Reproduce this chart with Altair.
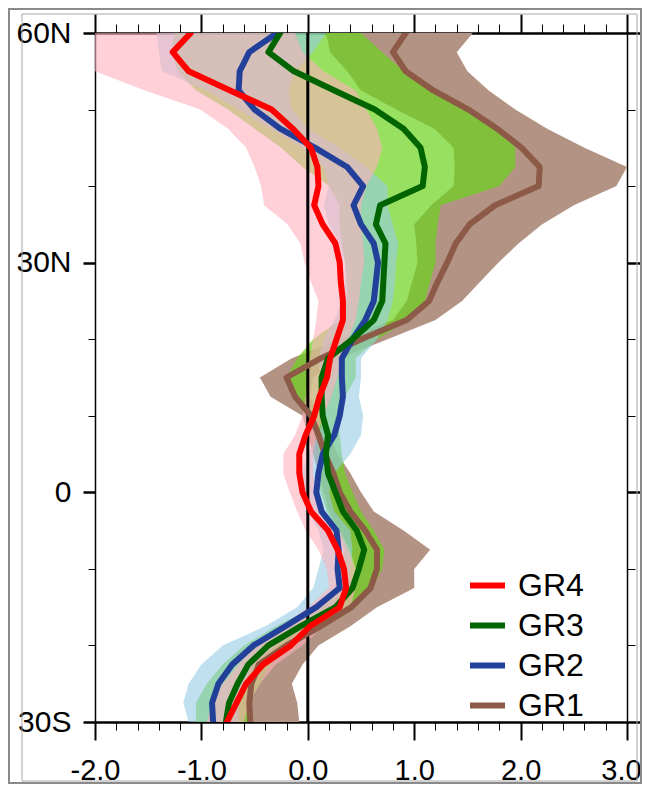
import altair as alt
import pandas as pd

# ---------------- data ----------------
lat = [60, 57.5, 55, 52.5, 50, 47.5, 45, 42.5, 40, 37.5, 35, 32.5, 30, 27.5, 25, 22.5,
       20, 17.5, 15, 12.5, 10, 7.5, 5, 2.5, 0, -2.5, -5, -7.5, -10, -12.5, -15, -17.5,
       -20, -22.5, -25, -27.5, -30]

gr4 = [-1.10, -1.27, -1.12, -0.73, -0.34, -0.14, 0.03, 0.09, 0.10, 0.06, 0.14, 0.26, 0.30,
       0.31, 0.33, 0.33, 0.27, 0.21, 0.18, 0.11, 0.06, -0.02, -0.08, -0.08, -0.05, 0.03,
       0.19, 0.28, 0.34, 0.36, 0.30, 0.02, -0.16, -0.42, -0.58, -0.67, -0.76]
gr4_lo = [-2.3, -2.3, -2.0, -1.53, -1.01, -0.75, -0.58, -0.50, -0.44, -0.41, -0.19, -0.07,
          -0.03, 0.03, 0.10, 0.08, 0.05, 0.02, 0.0, -0.02, -0.05, -0.12, -0.23, -0.23, -0.17,
          -0.10, -0.02, 0.10, 0.18, 0.20, 0.0, -0.25, -0.5, -0.65, -0.8, -0.9, -0.95]
gr4_hi = [-0.12, -0.05, 0.15, 0.45, 0.55, 0.65, 0.7, 0.65, 0.55, 0.5, 0.5, 0.52, 0.53, 0.5,
          0.48, 0.45, 0.38, 0.32, 0.28, 0.22, 0.15, 0.08, 0.05, 0.05, 0.08, 0.15, 0.3, 0.38,
          0.45, 0.45, 0.4, 0.15, -0.05, -0.3, -0.45, -0.55, -0.6]

gr3 = [-0.26, -0.37, -0.13, 0.25, 0.63, 0.90, 1.06, 1.10, 1.08, 0.68, 0.64, 0.73, 0.72,
       0.71, 0.70, 0.62, 0.42, 0.19, 0.13, 0.13, 0.14, 0.19, 0.17, 0.19, 0.26, 0.33, 0.46,
       0.53, 0.48, 0.42, 0.26, -0.07, -0.37, -0.56, -0.66, -0.74, -0.77]
gr3_lo = [-1.25, -1.28, -1.22, -1.05, -0.75, -0.5, -0.25, -0.05, 0.2, 0.3, 0.3, 0.32, 0.35,
          0.37, 0.37, 0.3, 0.05, -0.1, -0.2, -0.1, 0.05, 0.1, 0.1, 0.1, 0.12, 0.18, 0.28,
          0.35, 0.3, 0.25, 0.05, -0.3, -0.6, -0.8, -0.95, -1.05, -1.05]
gr3_hi = [0.5, 0.7, 0.9, 1.2, 1.5, 1.8, 1.95, 1.95, 1.8, 1.25, 1.22, 1.2, 1.2, 1.15, 1.1,
          0.95, 0.65, 0.45, 0.45, 0.35, 0.28, 0.3, 0.32, 0.35, 0.42, 0.5, 0.62, 0.72, 0.7,
          0.6, 0.45, 0.1, -0.2, -0.35, -0.45, -0.55, -0.55]

gr2 = [-0.29, -0.55, -0.64, -0.65, -0.50, -0.26, 0.07, 0.37, 0.52, 0.43, 0.50, 0.62, 0.66,
       0.64, 0.62, 0.54, 0.42, 0.32, 0.32, 0.33, 0.30, 0.25, 0.14, 0.10, 0.08, 0.13, 0.27,
       0.29, 0.28, 0.30, 0.08, -0.21, -0.51, -0.71, -0.84, -0.90, -0.89]
gr2_lo = [-1.42, -1.4, -1.37, -0.95, -0.65, -0.35, -0.05, 0.15, 0.2, 0.15, 0.2, 0.3, 0.35,
          0.35, 0.32, 0.25, 0.15, 0.1, 0.12, 0.15, 0.15, 0.1, 0.0, -0.05, -0.05, 0.0, 0.1,
          0.15, 0.1, 0.05, -0.1, -0.4, -0.8, -1.0, -1.12, -1.17, -1.12]
gr2_hi = [0.17, 0.05, -0.12, -0.18, -0.15, 0.0, 0.3, 0.55, 0.75, 0.75, 0.8, 0.85, 0.83,
          0.82, 0.8, 0.75, 0.65, 0.5, 0.5, 0.48, 0.52, 0.5, 0.4, 0.25, 0.2, 0.25, 0.4, 0.42,
          0.4, 0.4, 0.25, 0.0, -0.3, -0.5, -0.6, -0.65, -0.65]

gr1 = [0.92, 0.80, 0.92, 1.18, 1.51, 1.78, 2.01, 2.18, 2.17, 1.76, 1.52, 1.39, 1.31, 1.22,
       1.14, 0.93, 0.50, 0.12, -0.20, -0.12, 0.03, 0.10, 0.16, 0.24, 0.30, 0.40, 0.54, 0.65,
       0.65, 0.59, 0.41, 0.12, -0.20, -0.46, -0.53, -0.55, -0.54]
gr1_lo = [0.17, 0.21, 0.37, 0.5, 0.83, 1.19, 1.37, 1.38, 1.37, 1.16, 1.0, 1.02, 1.03, 0.98,
          0.93, 0.8, 0.3, -0.15, -0.45, -0.35, -0.05, 0.0, 0.05, 0.1, 0.15, 0.2, 0.3, 0.4,
          0.45, 0.4, 0.15, -0.1, -0.3, -0.55, -0.65, -0.7, -0.7]
gr1_hi = [1.55, 1.4, 1.5, 1.7, 1.95, 2.25, 2.6, 3.0, 2.9, 2.5, 2.2, 1.98, 1.79, 1.62, 1.45,
          1.2, 0.75, 0.3, 0.05, 0.02, 0.1, 0.2, 0.28, 0.4, 0.5, 0.62, 0.9, 1.15, 1.0, 1.0,
          0.65, 0.4, 0.1, -0.05, -0.15, -0.1, -0.08]

groups = ["GR4", "GR3", "GR2", "GR1"]
line_colors = ["#FF0000", "#006400", "#22409A", "#8C5A46"]
line_widths = [6, 6, 6, 5]

x_major = [-2, -1, 0, 1, 2, 3]
x_minor = [round(-2 + 0.2 * i, 1) for i in range(26) if i % 5 != 0]
y_major = [-30, 0, 30, 60]
y_minor = [-20, -10, 10, 20, 40, 50]

FONT = "Liberation Sans, Arial, sans-serif"

rows = []
for g, v, lo, hi in [("GR1", gr1, gr1_lo, gr1_hi), ("GR2", gr2, gr2_lo, gr2_hi),
                     ("GR3", gr3, gr3_lo, gr3_hi), ("GR4", gr4, gr4_lo, gr4_hi)]:
    for i, la in enumerate(lat):
        rows.append(dict(group=g, idx=i, lat=la, value=v[i], lo=lo[i], hi=hi[i]))
df = pd.DataFrame(rows)

xs = alt.Scale(domain=[-2, 3], nice=False, zero=False)
ys = alt.Scale(domain=[-30, 60], nice=False, zero=False)


def band(g, color, op):
    return alt.Chart(df).transform_filter(alt.datum.group == g).mark_area(
        orient="horizontal", color=color, opacity=op, clip=True
    ).encode(
        x=alt.X("lo:Q", scale=xs, axis=None),
        x2="hi:Q",
        y=alt.Y("lat:Q", scale=ys, axis=None),
    )


bands = [
    band("GR1", "#B39383", 1.0),
    band("GR3", "#6CD31C", 0.7),
    band("GR2", "#96CBE6", 0.6),
    band("GR4", "#FFB1BE", 0.6),
]

zero = alt.Chart(pd.DataFrame({"z": [0]})).mark_rule(color="black", strokeWidth=3).encode(
    x=alt.X("z:Q", scale=xs, axis=None)
)

lines = alt.Chart(df).mark_line(strokeCap="round", strokeJoin="round", clip=True).encode(
    x=alt.X("value:Q", scale=xs, axis=None),
    y=alt.Y("lat:Q", scale=ys, axis=None),
    order="idx:Q",
    strokeWidth=alt.StrokeWidth("group:N", scale=alt.Scale(domain=groups, range=line_widths),
                                legend=None),
    color=alt.Color(
        "group:N",
        scale=alt.Scale(domain=groups, range=line_colors),
        legend=alt.Legend(
            orient="none", legendX=372, legendY=532, title=None,
            symbolType="stroke", symbolSize=1225, symbolStrokeWidth=6,
            labelFont=FONT, labelFontSize=32, labelColor="black",
            labelOffset=10, rowPadding=3, padding=0,
        ),
    ),
)

xlab = "(datum.value < 0 ? '-' : '') + format(abs(datum.value), '.1f')"
ylab = "datum.value > 0 ? datum.value + 'N' : (datum.value < 0 ? (-datum.value) + 'S' : '0')"


def axis_layer(xaxis, yaxis):
    return alt.Chart(df).mark_point(opacity=0).encode(
        x=alt.X("value:Q", scale=xs, axis=xaxis),
        y=alt.Y("lat:Q", scale=ys, axis=yaxis),
    )


common = dict(grid=False, title=None, tickColor="black", domainColor="black")

ax1 = axis_layer(
    alt.Axis(orient="bottom", values=x_major, tickSize=18, tickWidth=2, domainWidth=2.5,
             labelExpr=xlab, labelFont=FONT, labelFontSize=29, labelColor="black",
             labelPadding=16, labelFlush=False, labelOverlap=False,
             labelOffset={"condition": {"test": "datum.value >= 3", "value": -6}, "value": 0},
             **common),
    alt.Axis(orient="left", values=y_major, tickSize=12, tickWidth=2.5, domainWidth=1.5,
             labelExpr=ylab, labelFont=FONT, labelFontSize=30, labelColor="black",
             labelPadding=12, labelFlush=False, labelOverlap=False, **common),
)
ax2 = axis_layer(
    alt.Axis(orient="bottom", values=x_minor, tickSize=8, tickWidth=1, domain=False,
             labels=False, **common),
    alt.Axis(orient="left", values=y_minor, tickSize=7, tickWidth=1, domain=False,
             labels=False, **common),
)
ax3 = axis_layer(
    alt.Axis(orient="top", values=x_major, tickSize=19, tickWidth=2, domainWidth=2.5,
             labels=False, **common),
    alt.Axis(orient="right", values=y_major, tickSize=13, tickWidth=2.5, domainWidth=1.5,
             labels=False, **common),
)
ax4 = axis_layer(
    alt.Axis(orient="top", values=x_minor, tickSize=9, tickWidth=1, domain=False,
             labels=False, **common),
    alt.Axis(orient="right", values=y_minor, tickSize=8, tickWidth=1, domain=False,
             labels=False, **common),
)

one = pd.DataFrame({"a": [0]})
frame_inner = alt.Chart(one).mark_rect(fillOpacity=0, stroke="#A8A8A8", strokeWidth=1).encode(
    x=alt.value(-73), x2=alt.value(542), y=alt.value(-19), y2=alt.value(748)
)
frame_outer = alt.Chart(one).mark_rect(fillOpacity=0, stroke="#8A8A8A", strokeWidth=2).encode(
    x=alt.value(-86), x2=alt.value(546), y=alt.value(-24), y2=alt.value(750)
)

chart = alt.layer(
    frame_outer, frame_inner, *bands, zero, lines, ax1, ax2, ax3, ax4
).resolve_axis(x="independent", y="independent").properties(
    width=532, height=689,
    padding={"left": 87, "top": 25, "right": 15, "bottom": 62},
    autosize=alt.AutoSizeParams(type="none"),
    background="white",
).configure_view(stroke=None)

chart.save("out.html", embed_options={"renderer": "svg", "actions": False})
